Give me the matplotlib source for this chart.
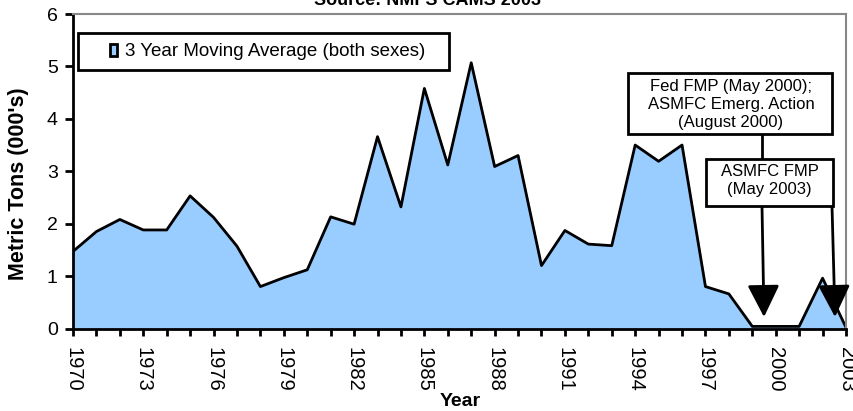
import matplotlib
matplotlib.use("Agg")
import matplotlib.pyplot as plt
from matplotlib.patches import Rectangle

plt.rcParams['font.family'] = ['Liberation Sans', 'DejaVu Sans']

years = list(range(1970, 2004))
tons = [1.47, 1.85, 2.08, 1.88, 1.88, 2.53, 2.12, 1.57, 0.80, 0.97, 1.12,
        2.13, 1.99, 3.66, 2.32, 4.58, 3.12, 5.07, 3.09, 3.30, 1.20, 1.87,
        1.61, 1.58, 3.50, 3.19, 3.50, 0.80, 0.66, 0.04, 0.04, 0.04, 0.96, 0.02]
tick_years = list(range(1970, 2004, 3))
legend_label = "3 Year Moving Average (both sexes)"
box1_text = "Fed FMP (May 2000);\nASMFC Emerg. Action\n(August 2000)"
box2_text = "ASMFC FMP\n(May 2003)"
title_text = "Source: NMFS CAMS 2003"

W, H = 854, 411
fig = plt.figure(figsize=(W / 100, H / 100), dpi=100)
ax = fig.add_axes([73 / W, 1 - 328.5 / H, (846 - 73) / W, (328.5 - 14) / H])

ax.fill_between(years, tons, 0, color='#99CCFF', zorder=1)
ax.plot(years, tons, color='black', lw=2, zorder=2)
ax.set_xlim(1970, 2003)
ax.set_ylim(0, 6)

ax.set_xticks(tick_years)
ax.set_xticks(years, minor=True)
ax.set_xticklabels([str(y) for y in tick_years], rotation=-90, fontsize=14.5)
ax.set_yticks(range(7))
ax.tick_params(axis='y', labelsize=14, width=2, length=6, direction='out', pad=5)
ax.tick_params(axis='x', which='both', width=2, length=5, direction='out', pad=8)

for s in ['left', 'bottom']:
    ax.spines[s].set_linewidth(2)
for s in ['top', 'right']:
    ax.spines[s].set_color('#888888')
    ax.spines[s].set_linewidth(1.5)

ax.set_ylabel("Metric Tons (000's)", fontsize=15.5, fontweight='bold')
ax.yaxis.set_label_coords((29 - 73) / (846 - 73), (328.5 - 184) / 314.5)
fig.text(460 / W, 1 - 401 / H, "Year", fontsize=14, fontweight='bold', ha='center', va='center')

fig.text(428 / W, 1 - 5 / H, title_text, fontsize=13, fontweight='bold', ha='center', va='baseline')

def fx(px):
    return px / W

def fy(py):
    return 1 - py / H

# legend box
fig.add_artist(Rectangle((fx(78), fy(70)), (449 - 78) / W, (70 - 33) / H,
                         transform=fig.transFigure, fill=False, ec='black', lw=2))
fig.add_artist(Rectangle((fx(110), fy(56)), 7 / W, 12 / H,
                         transform=fig.transFigure, fc='#99CCFF', ec='black', lw=2))
fig.text(fx(125), fy(51), legend_label, fontsize=13.5, ha='left', va='center')

# annotation boxes
fig.add_artist(Rectangle((fx(628), fy(134)), (832 - 628) / W, (134 - 73) / H,
                         transform=fig.transFigure, fc='white', ec='black', lw=2, zorder=5))
fig.text(fx(731), fy(105), box1_text, fontsize=12, ha='center', va='center',
         linespacing=1.25, zorder=6)
fig.add_artist(Rectangle((fx(706), fy(206)), (833 - 706) / W, (206 - 159) / H,
                         transform=fig.transFigure, fc='white', ec='black', lw=2, zorder=5))
fig.text(fx(769.5), fy(180), box2_text, fontsize=12, ha='center', va='center',
         linespacing=1.25, zorder=6)

fig.add_artist(plt.Line2D([fx(762), fx(762)], [fy(134), fy(159)], transform=fig.transFigure,
                          color='black', lw=2))

arrow_kw = dict(arrowstyle='-|>,head_width=0.55,head_length=1.1', color='black', lw=2,
                shrinkA=0, shrinkB=0, mutation_scale=18)
ax.annotate('', xy=(fx(764), fy(317)), xytext=(fx(762), fy(206)),
            xycoords='figure fraction', textcoords='figure fraction', arrowprops=arrow_kw,
            annotation_clip=False)
ax.annotate('', xy=(fx(835), fy(317)), xytext=(fx(832), fy(206)),
            xycoords='figure fraction', textcoords='figure fraction', arrowprops=arrow_kw,
            annotation_clip=False)

fig.savefig("out.png", dpi=100)
